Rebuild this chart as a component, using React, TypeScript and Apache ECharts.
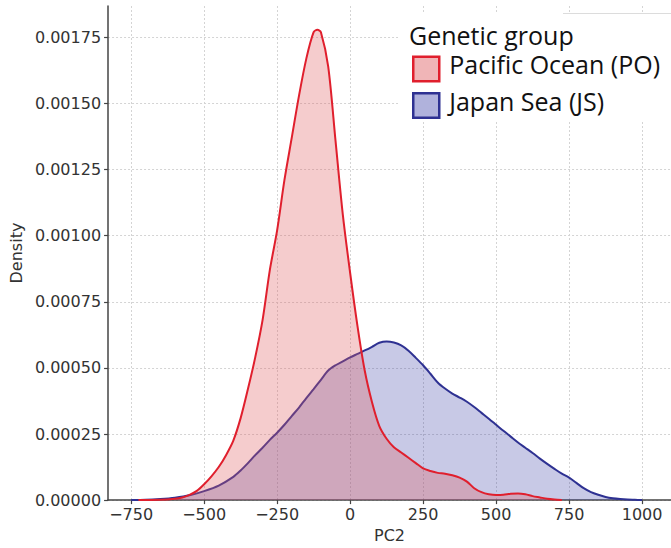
import React, { useEffect, useRef } from "react";
import * as echarts from "echarts";

const xTicks = [-750, -500, -250, 0, 250, 500, 750, 1000];
const yTicks = [0, 0.00025, 0.0005, 0.00075, 0.001, 0.00125, 0.0015, 0.00175];

const legendTitle = "Genetic group";
const poName = "Pacific Ocean (PO)";
const jsName = "Japan Sea (JS)";

const poX = [-725, -700, -650, -600, -575, -550, -525, -500, -475, -450, -425, -400, -375, -350, -325, -300, -275, -250, -225, -200, -175, -150, -125, -112, -100, -75, -50, -25, 0, 25, 50, 75, 100, 125, 150, 175, 200, 225, 250, 275, 300, 325, 350, 375, 400, 425, 450, 475, 500, 525, 550, 575, 600, 625, 650, 675, 700, 725];
const poY = [0, 0.0000005, 0.000001, 0.000005, 0.00001, 0.00002, 0.000035, 0.00006, 0.00009, 0.000125, 0.00017, 0.000225, 0.00031, 0.00042, 0.00054, 0.00068, 0.00087, 0.00102, 0.00121, 0.00137, 0.00153, 0.00167, 0.00177, 0.001779, 0.00177, 0.00164, 0.00136, 0.00108, 0.00086, 0.00066, 0.00049, 0.00037, 0.00028, 0.000232, 0.0002, 0.00018, 0.00016, 0.00014, 0.00012, 0.00011, 0.000103, 0.0001, 0.000094, 0.000085, 0.00007, 0.000045, 0.00003, 0.000022, 0.000019, 0.00002, 0.000024, 0.000025, 0.000022, 0.000015, 0.00001, 0.000005, 0.000002, 0];

const jsX = [-750, -700, -650, -600, -550, -500, -450, -400, -375, -350, -325, -300, -275, -250, -225, -200, -175, -150, -125, -100, -75, -50, -25, 0, 25, 50, 75, 100, 125, 150, 175, 200, 225, 250, 275, 300, 325, 350, 375, 400, 425, 450, 475, 500, 525, 550, 575, 600, 625, 650, 675, 700, 725, 750, 775, 800, 825, 850, 875, 900, 925, 950, 975, 1000];
const jsY = [0, 0.000001, 0.000004, 0.000009, 0.000018, 0.000034, 0.000055, 0.000088, 0.000112, 0.00014, 0.00017, 0.000198, 0.000228, 0.000255, 0.000285, 0.000318, 0.00035, 0.000386, 0.00042, 0.000455, 0.00049, 0.00051, 0.000525, 0.00054, 0.000553, 0.000566, 0.00058, 0.000595, 0.0006, 0.000596, 0.000585, 0.000565, 0.000538, 0.00051, 0.000478, 0.000445, 0.000422, 0.000403, 0.000388, 0.000372, 0.000352, 0.00033, 0.000308, 0.000285, 0.000262, 0.00024, 0.000218, 0.000198, 0.000178, 0.000157, 0.000137, 0.000118, 0.0001, 0.000085, 0.000065, 0.000045, 0.00003, 0.00002, 0.000012, 0.000007, 0.000004, 0.000002, 0.000001, 0];

const RED = "#e01f2d";
const BLUE = "#2e3192";
const RED_FILL = "rgba(222,91,95,0.45)";
const BLUE_FILL = "rgba(47,52,163,0.38)";
const AXIS_COLOR = "#444";
const GRID_COLOR = "#d4d4d4";
const LABEL_FONT = "DejaVu Sans";
const LEGEND_FONT = "Open Sans";
// legend swatch: a box in the lower part of the icon area, so the label sits a little above its centre
const SWATCH_ICON = "path://M0,0M0,9.5L26,9.5L26,34L0,34Z";

export default function App() {
  const ref = useRef<HTMLDivElement>(null);
  useEffect(() => {
    if (!ref.current) return;
    const chart = echarts.init(ref.current, null, { renderer: "svg" });
    const fmtX = (v: number) => (v < 0 ? "\u2212" + Math.abs(v) : String(v));
    chart.setOption({
      animation: false,
      backgroundColor: "#fff",
      grid: { left: 102, top: 6, right: 0, bottom: 45, containLabel: false },
      xAxis: {
        type: "value",
        min: -829,
        max: 1099,
        name: "PC2",
        nameLocation: "middle",
        nameGap: 22,
        nameTextStyle: { fontFamily: LABEL_FONT, fontSize: 16, color: "#333" },
        axisLine: { show: true, onZero: false, lineStyle: { color: AXIS_COLOR, width: 1.5 } },
        axisTick: { show: true, customValues: xTicks, length: 4, lineStyle: { color: AXIS_COLOR, width: 1.2 } },
        axisLabel: {
          customValues: xTicks,
          formatter: fmtX,
          fontFamily: LABEL_FONT,
          fontSize: 16,
          color: "#333",
          margin: 6,
        },
        splitLine: { show: true, lineStyle: { color: GRID_COLOR, type: [2, 2], width: 1 } },
      },
      yAxis: {
        type: "value",
        min: 0,
        max: 0.001869,
        name: "Density",
        nameLocation: "middle",
        nameGap: 80,
        nameTextStyle: { fontFamily: LABEL_FONT, fontSize: 16, color: "#333" },
        axisLine: { show: true, onZero: false, lineStyle: { color: AXIS_COLOR, width: 1.5 } },
        axisTick: { show: true, customValues: yTicks, length: 4, lineStyle: { color: AXIS_COLOR, width: 1.2 } },
        axisLabel: {
          customValues: yTicks,
          formatter: (v: number) => v.toFixed(5),
          fontFamily: LABEL_FONT,
          fontSize: 16,
          color: "#333",
          margin: 7,
        },
        splitLine: { show: true, lineStyle: { color: GRID_COLOR, type: [2, 2], width: 1 } },
      },
      legend: {
        orient: "vertical",
        left: 412,
        top: 46,
        padding: 0,
        itemWidth: 26,
        itemHeight: 34,
        itemGap: 0,
        icon: SWATCH_ICON,
        selectedMode: false,
        textStyle: {
          fontFamily: LEGEND_FONT,
          fontSize: 25,
          color: "#111",
          padding: [0, 0, 0, 5],
        },
        data: [
          { name: poName, itemStyle: { color: RED_FILL, borderColor: RED, borderWidth: 2.5 } },
          { name: jsName, itemStyle: { color: BLUE_FILL, borderColor: BLUE, borderWidth: 2.5 } },
        ],
      },
      graphic: [
        {
          type: "rect",
          z: 3,
          shape: { x: 398, y: 13, width: 280, height: 109 },
          style: { fill: "#fff" },
        },
        {
          type: "line",
          z: 3,
          shape: { x1: 563, y1: 13.5, x2: 671, y2: 13.5 },
          style: { stroke: "#dcdcdc", lineWidth: 1 },
        },
        {
          type: "text",
          z: 5,
          x: 409,
          y: 34.5,
          style: {
            text: legendTitle,
            fontFamily: LEGEND_FONT,
            fontSize: 25,
            fill: "#111",
            verticalAlign: "middle",
            align: "left",
          },
        },
      ],
      series: [
        {
          name: jsName,
          type: "line",
          data: jsX.map((x, i) => [x, jsY[i]]),
          smooth: 0.3,
          symbol: "none",
          z: 2,
          lineStyle: { color: BLUE, width: 2 },
          itemStyle: { color: BLUE },
          areaStyle: { color: BLUE_FILL },
        },
        {
          name: poName,
          type: "line",
          data: poX.map((x, i) => [x, poY[i]]),
          smooth: 0.3,
          symbol: "none",
          z: 3,
          lineStyle: { color: RED, width: 2 },
          itemStyle: { color: RED },
          areaStyle: { color: RED_FILL },
        },
      ],
    });
    return () => chart.dispose();
  }, []);
  return (
    <div
      ref={ref}
      style={{ position: "fixed", left: 0, top: 0, width: 671, height: 548 }}
    />
  );
}
